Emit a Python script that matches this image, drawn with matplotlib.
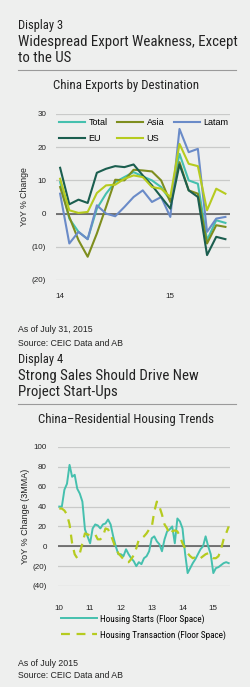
import numpy as np
import matplotlib
matplotlib.use("Agg")
import matplotlib.pyplot as plt
from matplotlib import font_manager

# ---- data -----------------------------------------------------------------
# China exports by destination, YoY %, monthly Jan-2014 .. Jul-2015
exp_months = np.arange(19)
total = [9.5, -1.5, -5.5, -7.7, 1.5, 6.0, 9.5, 11.0, 12.5, 11.2, 10.0, 8.0, 4.0,
         18.0, 10.0, 9.0, -8.0, -2.0, -2.8]
asia = [8.0, -1.0, -8.0, -13.0, -6.0, 2.0, 10.2, 10.0, 13.2, 13.0, 12.7, 10.0, 3.5,
        15.5, 7.0, 6.0, -9.0, -3.5, -4.0]
latam = [6.0, -9.0, -5.5, -7.7, 2.5, 0.0, -0.8, 2.0, 5.0, 7.0, 3.5, 5.0, -1.0,
         25.5, 18.5, 19.5, -5.5, -1.5, -1.0]
eu = [13.8, 2.8, 4.2, 3.2, 12.3, 13.5, 14.3, 14.0, 14.8, 11.5, 8.5, 5.0, 1.5,
      14.8, 7.0, 5.0, -12.5, -7.0, -7.7]
us = [10.5, 1.0, 0.2, 0.5, 6.2, 8.5, 8.7, 10.5, 11.5, 11.0, 8.0, 7.5, 5.0,
      21.0, 15.0, 14.3, 1.0, 7.5, 6.0]
exp_ticks = [0, 12]
exp_ticklabels = ["14", "15"]

# China residential housing, YoY % (3MMA), monthly Jan-2010 .. Jul-2015
house_months = np.arange(67)
starts = [40, 40, 57, 63, 82, 70, 72, 58, 53, 45, 17, 10, 3, 18, 22, 21, 18, 22,
          23, 27, 22, 10, 0, -8, -8, -10, -3, -8, -12, -15, -20, -16, -18, -12,
          -10, -5, 8, 10, 5, 2, -5, 7, 15, 17, 20, 3, 28, 25, 18, -7, -27, -22,
          -17, -13, -8, -3, 0, 10, 0, -8, -27, -22, -21, -19, -17, -16, -17]
transact = [38, 38, 36, 32, 22, 3, -8, -12, -7, 3, 13, 12, 11, 11, 12, 7, 7, 10,
            18, 17, 12, 5, -2, -7, -10, -13, -16, -16, -13, -9, -2, 7, 8, 10,
            13, 17, 19, 35, 45, 40, 32, 22, 18, 12, 15, 16, 15, 10, 3, -2, -7,
            -10, -12, -11, -10, -12, -10, -8, -7, -10, -12, -12, -10, -3, 7, 13, 20]
house_ticks = [0, 12, 24, 36, 48, 60]
house_ticklabels = ["10", "11", "12", "13", "14", "15"]

# ---- styling ----------------------------------------------------------------
BG = "#eeefee"
GRID = "#c9cac9"
ZERO = "#555555"
C_TOTAL = "#45c0ae"
C_ASIA = "#7e8e1e"
C_LATAM = "#6a8bc8"
C_EU = "#1b5e4f"
C_US = "#b6cb1f"

names = {f.name for f in font_manager.fontManager.ttflist}
NARROW = "DejaVu Sans"
for cand in ["Liberation Sans Narrow", "Roboto Condensed", "Open Sans Condensed",
             "DejaVu Sans Condensed"]:
    if cand in names:
        NARROW = cand
        break
BODY = "Liberation Sans" if "Liberation Sans" in names else "DejaVu Sans"
plt.rcParams["font.family"] = BODY

W, H = 250, 687
fig = plt.figure(figsize=(W / 100, H / 100), dpi=100, facecolor=BG)


def fy(px):
    return 1 - px / H


def fx(px):
    return px / W


def header(y0, disp, line1, line2, sub):
    fig.text(fx(18), fy(y0), disp, family=NARROW, fontsize=9.0, color="#222",
             va="center")
    fig.text(fx(18), fy(y0 + 17), line1, family=NARROW, fontsize=10.7, color="#222",
             va="center")
    fig.text(fx(18), fy(y0 + 33), line2, family=NARROW, fontsize=10.7, color="#222",
             va="center")
    fig.add_artist(plt.Line2D([fx(18), fx(236)], [fy(y0 + 45), fy(y0 + 45)],
                              color="#9a9a9a", lw=0.8, transform=fig.transFigure))
    fig.text(fx(126), fy(y0 + 61), sub, family=NARROW, fontsize=9.3, color="#222",
             va="center", ha="center")


def style_axes(ax):
    ax.set_facecolor(BG)
    for s in ax.spines.values():
        s.set_visible(False)
    ax.tick_params(length=0, labelsize=5.8, colors="#222")
    ax.yaxis.grid(True, color=GRID, lw=0.9)
    ax.set_axisbelow(True)
    ax.axhline(0, color=ZERO, lw=1.1, zorder=1.5)


def paren(v):
    return f"({abs(int(v))})" if v < 0 else f"{int(v)}"


# ---- display 3 --------------------------------------------------------------
header(25, "Display 3", "Widespread Export Weakness, Except", "to the US",
       "China Exports by Destination")

ax1 = fig.add_axes([fx(56), fy(280), fx(230) - fx(56), fy(114) - fy(280)])
style_axes(ax1)
lw = 1.5
h_total, = ax1.plot(exp_months, total, color=C_TOTAL, lw=lw, label="Total")
h_asia, = ax1.plot(exp_months, asia, color=C_ASIA, lw=lw, label="Asia")
h_latam, = ax1.plot(exp_months, latam, color=C_LATAM, lw=lw, label="Latam")
h_eu, = ax1.plot(exp_months, eu, color=C_EU, lw=lw, label="EU")
h_us, = ax1.plot(exp_months, us, color=C_US, lw=lw, label="US")
ax1.set_xlim(-0.45, 18.5)
ax1.set_ylim(-20, 30)
yt = [-20, -10, 0, 10, 20, 30]
ax1.set_yticks(yt)
ax1.set_yticklabels([paren(v) for v in yt])
ax1.set_xticks(exp_ticks)
ax1.set_xticklabels(exp_ticklabels)
ax1.tick_params(axis="x", pad=9)
ax1.tick_params(axis="y", pad=7)
ax1.set_ylabel("YoY % Change", fontsize=6.3, labelpad=2, color="#222")
# column-major fill -> rows: Total Asia Latam / EU US
hs = [h_total, h_eu, h_asia, h_us, h_latam]
ax1.legend(hs, [h.get_label() for h in hs], loc="upper left",
           bbox_to_anchor=(fx(59), fy(118)), bbox_transform=fig.transFigure,
           ncol=3, frameon=False, fontsize=6.5, handlelength=2.9,
           handletextpad=0.35, columnspacing=1.1, labelspacing=0.75,
           borderaxespad=0, borderpad=0)

fig.text(fx(18), fy(329), "As of July 31, 2015", fontsize=6.3, color="#222",
         va="center")
fig.text(fx(18), fy(343), "Source: CEIC Data and AB", fontsize=6.3, color="#222",
         va="center")

# ---- display 4 --------------------------------------------------------------
header(359, "Display 4", "Strong Sales Should Drive New", "Project Start-Ups",
       "China\u2013Residential Housing Trends")

ax2 = fig.add_axes([fx(58), fy(586), fx(230) - fx(58), fy(447) - fy(586)])
style_axes(ax2)
ax2.plot(house_months, starts, color=C_TOTAL, lw=1.4,
         label="Housing Starts (Floor Space)")
ax2.plot(house_months, transact, color=C_US, lw=1.6, ls=(0, (4, 3)),
         label="Housing Transaction (Floor Space)")
ax2.set_xlim(-0.5, 66.5)
ax2.set_ylim(-40, 100)
yt2 = [-40, -20, 0, 20, 40, 60, 80, 100]
ax2.set_yticks(yt2)
ax2.set_yticklabels([paren(v) for v in yt2])
ax2.set_xticks(house_ticks)
ax2.set_xticklabels(house_ticklabels)
ax2.tick_params(axis="x", pad=14)
ax2.tick_params(axis="y", pad=8)
ax2.set_ylabel("YoY % Change (3MMA)", fontsize=6.5, labelpad=2, color="#222")
ax2.legend(loc="upper left", bbox_to_anchor=(fx(61), fy(614)),
           bbox_transform=fig.transFigure, frameon=False,
           prop={"family": NARROW, "size": 6.6}, handlelength=3.9,
           handletextpad=0.3, labelspacing=0.7, borderaxespad=0, borderpad=0)

fig.text(fx(18), fy(664), "As of July 2015", fontsize=6.3, color="#222", va="center")
fig.text(fx(18), fy(676), "Source: CEIC Data and AB", fontsize=6.3, color="#222",
         va="center")

fig.savefig("out.png", dpi=100, facecolor=BG)
